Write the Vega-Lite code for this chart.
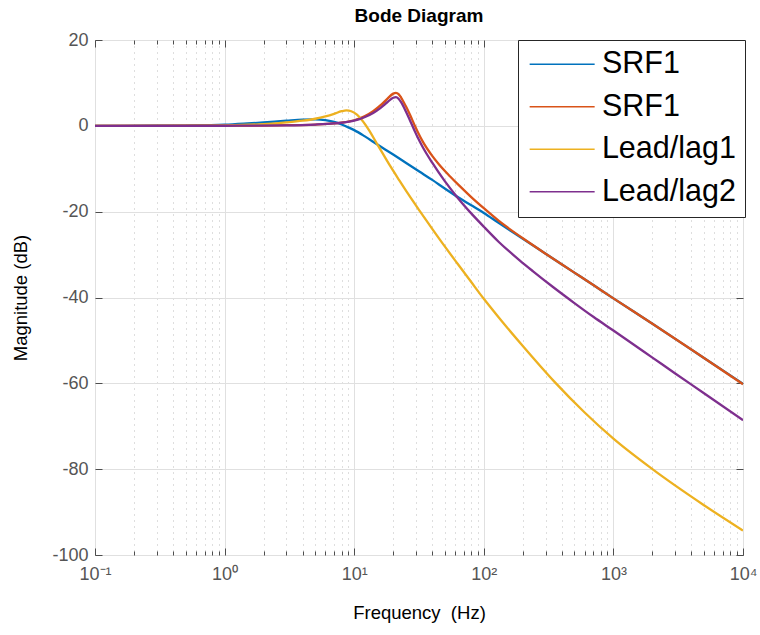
{
  "$schema": "https://vega.github.io/schema/vega-lite/v6.json",
  "width": 648,
  "height": 515,
  "autosize": {"type": "none"},
  "padding": {"left": 95, "top": 40, "right": 17, "bottom": 80},
  "background": "white",
  "config": {
    "font": "Liberation Sans, Arial, Helvetica, sans-serif",
    "view": {"stroke": "#262626", "strokeWidth": 1}
  },
  "title": {
    "text": "Bode Diagram",
    "fontSize": 19,
    "fontWeight": "bold",
    "font": "Liberation Sans, Arial, Helvetica, sans-serif",
    "color": "black",
    "offset": 5,
    "anchor": "middle"
  },
  "data": {
    "values": [
      {"s": "a_SRF1", "f": 0.1, "db": 0},
      {"s": "a_SRF1", "f": 0.3, "db": 0.02},
      {"s": "a_SRF1", "f": 0.5, "db": 0.07},
      {"s": "a_SRF1", "f": 1, "db": 0.25},
      {"s": "a_SRF1", "f": 1.5, "db": 0.55},
      {"s": "a_SRF1", "f": 2, "db": 0.8},
      {"s": "a_SRF1", "f": 3, "db": 1.2},
      {"s": "a_SRF1", "f": 4, "db": 1.45},
      {"s": "a_SRF1", "f": 5, "db": 1.5},
      {"s": "a_SRF1", "f": 6, "db": 1.35},
      {"s": "a_SRF1", "f": 7, "db": 0.9},
      {"s": "a_SRF1", "f": 8, "db": 0.3},
      {"s": "a_SRF1", "f": 9, "db": -0.35},
      {"s": "a_SRF1", "f": 10, "db": -1.0},
      {"s": "a_SRF1", "f": 12, "db": -2.4},
      {"s": "a_SRF1", "f": 15, "db": -4.3},
      {"s": "a_SRF1", "f": 20, "db": -6.7},
      {"s": "a_SRF1", "f": 25, "db": -8.6},
      {"s": "a_SRF1", "f": 32, "db": -10.7},
      {"s": "a_SRF1", "f": 40, "db": -12.6},
      {"s": "a_SRF1", "f": 50, "db": -14.6},
      {"s": "a_SRF1", "f": 63, "db": -16.6},
      {"s": "a_SRF1", "f": 80, "db": -18.5},
      {"s": "a_SRF1", "f": 100, "db": -20.3},
      {"s": "a_SRF1", "f": 130, "db": -22.6},
      {"s": "a_SRF1", "f": 200, "db": -26.3},
      {"s": "a_SRF1", "f": 300, "db": -29.8},
      {"s": "a_SRF1", "f": 500, "db": -34.2},
      {"s": "a_SRF1", "f": 700, "db": -37.1},
      {"s": "a_SRF1", "f": 1000, "db": -40.2},
      {"s": "a_SRF1", "f": 2000, "db": -46.1},
      {"s": "a_SRF1", "f": 5000, "db": -54.1},
      {"s": "a_SRF1", "f": 10000, "db": -60.1},

      {"s": "b_SRF1", "f": 0.1, "db": 0},
      {"s": "b_SRF1", "f": 1, "db": 0.02},
      {"s": "b_SRF1", "f": 2, "db": 0.08},
      {"s": "b_SRF1", "f": 3, "db": 0.15},
      {"s": "b_SRF1", "f": 5, "db": 0.3},
      {"s": "b_SRF1", "f": 7, "db": 0.55},
      {"s": "b_SRF1", "f": 8, "db": 0.75},
      {"s": "b_SRF1", "f": 10, "db": 1.3},
      {"s": "b_SRF1", "f": 12, "db": 2.2},
      {"s": "b_SRF1", "f": 14, "db": 3.4},
      {"s": "b_SRF1", "f": 16, "db": 4.8},
      {"s": "b_SRF1", "f": 18, "db": 6.3},
      {"s": "b_SRF1", "f": 20, "db": 7.5},
      {"s": "b_SRF1", "f": 21, "db": 7.7},
      {"s": "b_SRF1", "f": 22, "db": 7.4},
      {"s": "b_SRF1", "f": 23, "db": 6.6},
      {"s": "b_SRF1", "f": 25, "db": 4.6},
      {"s": "b_SRF1", "f": 27, "db": 2.5},
      {"s": "b_SRF1", "f": 29, "db": 0.4},
      {"s": "b_SRF1", "f": 31, "db": -1.5},
      {"s": "b_SRF1", "f": 34, "db": -3.8},
      {"s": "b_SRF1", "f": 40, "db": -7.0},
      {"s": "b_SRF1", "f": 45, "db": -8.95},
      {"s": "b_SRF1", "f": 55, "db": -11.8},
      {"s": "b_SRF1", "f": 65, "db": -14.0},
      {"s": "b_SRF1", "f": 80, "db": -16.6},
      {"s": "b_SRF1", "f": 100, "db": -19.2},
      {"s": "b_SRF1", "f": 130, "db": -22.1},
      {"s": "b_SRF1", "f": 200, "db": -26.2},
      {"s": "b_SRF1", "f": 300, "db": -29.8},
      {"s": "b_SRF1", "f": 500, "db": -34.2},
      {"s": "b_SRF1", "f": 700, "db": -37.1},
      {"s": "b_SRF1", "f": 1000, "db": -40.2},
      {"s": "b_SRF1", "f": 2000, "db": -46.1},
      {"s": "b_SRF1", "f": 5000, "db": -54.1},
      {"s": "b_SRF1", "f": 10000, "db": -60.2},

      {"s": "c_Lead/lag1", "f": 0.1, "db": 0},
      {"s": "c_Lead/lag1", "f": 0.5, "db": 0.03},
      {"s": "c_Lead/lag1", "f": 1, "db": 0.1},
      {"s": "c_Lead/lag1", "f": 2, "db": 0.4},
      {"s": "c_Lead/lag1", "f": 3, "db": 0.8},
      {"s": "c_Lead/lag1", "f": 4, "db": 1.2},
      {"s": "c_Lead/lag1", "f": 5, "db": 1.65},
      {"s": "c_Lead/lag1", "f": 6, "db": 2.2},
      {"s": "c_Lead/lag1", "f": 7, "db": 2.8},
      {"s": "c_Lead/lag1", "f": 8, "db": 3.4},
      {"s": "c_Lead/lag1", "f": 8.7, "db": 3.6},
      {"s": "c_Lead/lag1", "f": 9.5, "db": 3.4},
      {"s": "c_Lead/lag1", "f": 10.5, "db": 2.6},
      {"s": "c_Lead/lag1", "f": 11.5, "db": 1.3},
      {"s": "c_Lead/lag1", "f": 13, "db": -1.0},
      {"s": "c_Lead/lag1", "f": 15, "db": -4.2},
      {"s": "c_Lead/lag1", "f": 16.5, "db": -6.3},
      {"s": "c_Lead/lag1", "f": 19, "db": -9.4},
      {"s": "c_Lead/lag1", "f": 22.3, "db": -12.7},
      {"s": "c_Lead/lag1", "f": 26, "db": -15.8},
      {"s": "c_Lead/lag1", "f": 32, "db": -19.8},
      {"s": "c_Lead/lag1", "f": 40, "db": -24.0},
      {"s": "c_Lead/lag1", "f": 50, "db": -28.1},
      {"s": "c_Lead/lag1", "f": 63, "db": -32.2},
      {"s": "c_Lead/lag1", "f": 80, "db": -36.4},
      {"s": "c_Lead/lag1", "f": 100, "db": -40.3},
      {"s": "c_Lead/lag1", "f": 130, "db": -44.6},
      {"s": "c_Lead/lag1", "f": 200, "db": -51.3},
      {"s": "c_Lead/lag1", "f": 350, "db": -59.6},
      {"s": "c_Lead/lag1", "f": 600, "db": -66.8},
      {"s": "c_Lead/lag1", "f": 1000, "db": -72.9},
      {"s": "c_Lead/lag1", "f": 2000, "db": -80.0},
      {"s": "c_Lead/lag1", "f": 5000, "db": -88.4},
      {"s": "c_Lead/lag1", "f": 10000, "db": -94.3},

      {"s": "d_Lead/lag2", "f": 0.1, "db": 0},
      {"s": "d_Lead/lag2", "f": 1, "db": 0.02},
      {"s": "d_Lead/lag2", "f": 3, "db": 0.12},
      {"s": "d_Lead/lag2", "f": 5, "db": 0.3},
      {"s": "d_Lead/lag2", "f": 7, "db": 0.55},
      {"s": "d_Lead/lag2", "f": 8, "db": 0.72},
      {"s": "d_Lead/lag2", "f": 10, "db": 1.2},
      {"s": "d_Lead/lag2", "f": 12, "db": 2.0},
      {"s": "d_Lead/lag2", "f": 14, "db": 3.0},
      {"s": "d_Lead/lag2", "f": 16, "db": 4.2},
      {"s": "d_Lead/lag2", "f": 18, "db": 5.5},
      {"s": "d_Lead/lag2", "f": 20, "db": 6.55},
      {"s": "d_Lead/lag2", "f": 21, "db": 6.7},
      {"s": "d_Lead/lag2", "f": 22, "db": 6.3},
      {"s": "d_Lead/lag2", "f": 23, "db": 5.5},
      {"s": "d_Lead/lag2", "f": 25, "db": 3.4},
      {"s": "d_Lead/lag2", "f": 27, "db": 1.2},
      {"s": "d_Lead/lag2", "f": 29, "db": -0.9},
      {"s": "d_Lead/lag2", "f": 31, "db": -2.8},
      {"s": "d_Lead/lag2", "f": 34, "db": -5.1},
      {"s": "d_Lead/lag2", "f": 40, "db": -8.6},
      {"s": "d_Lead/lag2", "f": 50, "db": -12.9},
      {"s": "d_Lead/lag2", "f": 63, "db": -16.8},
      {"s": "d_Lead/lag2", "f": 80, "db": -20.4},
      {"s": "d_Lead/lag2", "f": 100, "db": -23.5},
      {"s": "d_Lead/lag2", "f": 130, "db": -27.0},
      {"s": "d_Lead/lag2", "f": 190, "db": -31.4},
      {"s": "d_Lead/lag2", "f": 240, "db": -33.9},
      {"s": "d_Lead/lag2", "f": 340, "db": -37.5},
      {"s": "d_Lead/lag2", "f": 500, "db": -41.3},
      {"s": "d_Lead/lag2", "f": 700, "db": -44.5},
      {"s": "d_Lead/lag2", "f": 1000, "db": -47.7},
      {"s": "d_Lead/lag2", "f": 2000, "db": -54.0},
      {"s": "d_Lead/lag2", "f": 3000, "db": -57.7},
      {"s": "d_Lead/lag2", "f": 5000, "db": -62.3},
      {"s": "d_Lead/lag2", "f": 10000, "db": -68.6}
    ]
  },
  "resolve": {"axis": {"x": "independent", "y": "independent"}},
  "layer": [
    {
      "mark": {"type": "line", "strokeWidth": 2.3, "interpolate": "monotone", "clip": true},
      "encoding": {
        "x": {
          "field": "f",
          "type": "quantitative",
          "scale": {"type": "log", "domain": [0.1, 10000], "nice": false},
          "axis": {
            "orient": "bottom",
            "title": "Frequency\u00a0 (Hz)",
            "titleFontSize": 18.5,
            "titleFontWeight": "normal",
            "titleColor": "black",
            "titlePadding": 17,
            "values": [0.1, 0.2, 0.3, 0.4, 0.5, 0.6, 0.7, 0.8, 0.9, 1, 2, 3, 4, 5, 6, 7, 8, 9, 10, 20, 30, 40, 50, 60, 70, 80, 90, 100, 200, 300, 400, 500, 600, 700, 800, 900, 1000, 2000, 3000, 4000, 5000, 6000, 7000, 8000, 9000, 10000],
            "labelExpr": "datum.value == 0.1 ? '10⁻¹' : datum.value == 1 ? '10⁰' : datum.value == 10 ? '10¹' : datum.value == 100 ? '10²' : datum.value == 1000 ? '10³' : datum.value == 10000 ? '10⁴' : ''",
            "labelFontSize": 18,
            "labelColor": "#555555",
            "labelOverlap": false,
            "labelBound": false,
            "labelFlush": false,
            "labelPadding": 17,
            "domain": false,
            "grid": true,
            "gridColor": {"condition": {"test": "indexof([0.1,1,10,100,1000,10000], datum.value) >= 0", "value": "#e0e0e0"}, "value": "#bdbdbd"},
            "gridDash": {"condition": {"test": "indexof([0.1,1,10,100,1000,10000], datum.value) >= 0", "value": []}, "value": [1, 5]},
            "gridWidth": 1,
            "ticks": true,
            "tickColor": "#4d4d4d",
            "tickSize": {"condition": {"test": "indexof([0.1,1,10,100,1000,10000], datum.value) >= 0", "value": -7}, "value": -4}
          }
        },
        "y": {
          "field": "db",
          "type": "quantitative",
          "scale": {"domain": [-100, 20], "nice": false, "zero": false},
          "axis": {
            "orient": "left",
            "title": "Magnitude (dB)",
            "titleFontSize": 18.5,
            "titleFontWeight": "normal",
            "titleColor": "black",
            "titlePadding": 21,
            "values": [-100, -80, -60, -40, -20, 0, 20],
            "labelExpr": "replace(datum.label, '\u2212', '-')",
            "labelFontSize": 18,
            "labelColor": "#555555",
            "labelPadding": 14,
            "labelBound": false,
            "labelFlush": false,
            "domain": false,
            "grid": true,
            "gridColor": "#e0e0e0",
            "gridWidth": 1,
            "tickColor": "#4d4d4d",
            "tickSize": -7
          }
        },
        "color": {
          "field": "s",
          "type": "nominal",
          "scale": {
            "domain": ["a_SRF1", "b_SRF1", "c_Lead/lag1", "d_Lead/lag2"],
            "range": ["#0072BD", "#D95319", "#EDB120", "#7E2F8E"]
          },
          "legend": {
            "title": null,
            "orient": "none",
            "legendX": 423,
            "legendY": 0,
            "labelExpr": "slice(datum.label, 2)",
            "labelFontSize": 30.5,
            "labelColor": "black",
            "labelOffset": 57,
            "labelLimit": 300,
            "symbolType": "M0,0H5",
            "symbolSize": 676,
            "symbolOffset": -12.6,
            "symbolStrokeWidth": 1.5,
            "rowPadding": 11.5,
            "padding": 9,
            "strokeColor": "#262626",
            "fillColor": "white",
            "cornerRadius": 0
          }
        },
        "order": {"field": "f", "type": "quantitative"}
      }
    },
    {
      "mark": {"type": "line", "opacity": 0},
      "encoding": {
        "x": {
          "field": "f",
          "type": "quantitative",
          "axis": {
            "orient": "top",
            "title": null,
            "labels": false,
            "domain": false,
            "grid": false,
            "values": [0.1, 0.2, 0.3, 0.4, 0.5, 0.6, 0.7, 0.8, 0.9, 1, 2, 3, 4, 5, 6, 7, 8, 9, 10, 20, 30, 40, 50, 60, 70, 80, 90, 100, 200, 300, 400, 500, 600, 700, 800, 900, 1000, 2000, 3000, 4000, 5000, 6000, 7000, 8000, 9000, 10000],
            "tickColor": "#4d4d4d",
            "tickSize": {"condition": {"test": "indexof([0.1,1,10,100,1000,10000], datum.value) >= 0", "value": -7}, "value": -4}
          }
        },
        "y": {
          "field": "db",
          "type": "quantitative",
          "axis": {
            "orient": "right",
            "title": null,
            "labels": false,
            "domain": false,
            "grid": false,
            "values": [-100, -80, -60, -40, -20, 0, 20],
            "tickColor": "#4d4d4d",
            "tickSize": -7
          }
        },
        "detail": {"field": "s", "type": "nominal"}
      }
    }
  ]
}
